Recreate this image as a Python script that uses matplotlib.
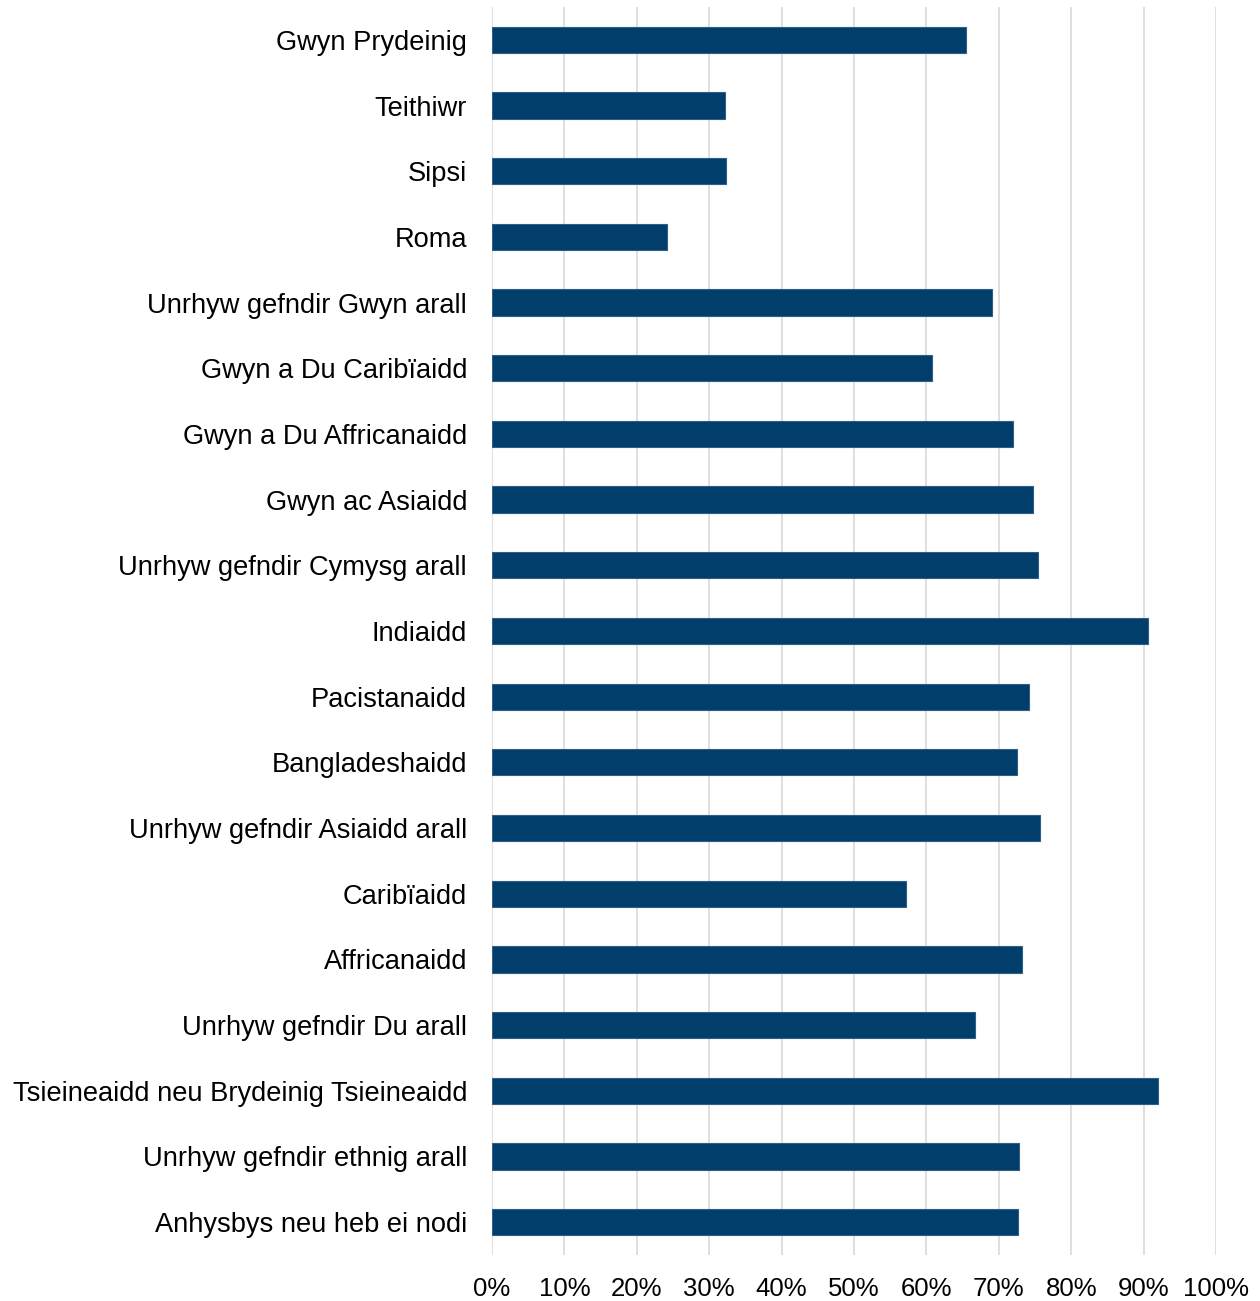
import matplotlib.pyplot as plt
import numpy as np

plt.rcParams['font.family'] = ['Liberation Sans', 'DejaVu Sans']

categories = [
    "Gwyn Prydeinig",
    "Teithiwr",
    "Sipsi",
    "Roma",
    "Unrhyw gefndir Gwyn arall",
    "Gwyn a Du Caribïaidd",
    "Gwyn a Du Affricanaidd",
    "Gwyn ac Asiaidd",
    "Unrhyw gefndir Cymysg arall",
    "Indiaidd",
    "Pacistanaidd",
    "Bangladeshaidd",
    "Unrhyw gefndir Asiaidd arall",
    "Caribïaidd",
    "Affricanaidd",
    "Unrhyw gefndir Du arall",
    "Tsieineaidd neu Brydeinig Tsieineaidd",
    "Unrhyw gefndir ethnig arall",
    "Anhysbys neu heb ei nodi",
]
values = [65.5, 32.2, 32.3, 24.2, 69.1, 60.8, 72.0, 74.7, 75.4, 90.6,
          74.2, 72.5, 75.7, 57.2, 73.2, 66.7, 92.0, 72.8, 72.7]
ticks = list(range(0, 101, 10))
tick_labels = [f"{t}%" for t in ticks]

fig = plt.figure(figsize=(12.6, 13.01), dpi=100)
ax = fig.add_axes([0.3905, 0.0354, 0.5746, 0.9592])

y = np.arange(len(categories))
ax.barh(y, values, height=0.4, color="#023e6b", edgecolor="#2d5f8a", linewidth=0.8, zorder=3)
ax.set_yticks(y)
ax.set_yticklabels(categories, fontsize=19.6, color="#000000")
ax.set_ylim(len(categories) - 0.5, -0.5)
ax.set_xlim(0, 100)
ax.set_xticks(ticks)
ax.set_xticklabels(tick_labels, fontsize=18.5)
ax.grid(axis="x", color="#d9d9d9", linewidth=1.2, zorder=0)
for s in ax.spines.values():
    s.set_visible(False)
ax.tick_params(axis="both", length=0)
ax.tick_params(axis="y", pad=18)
ax.tick_params(axis="x", pad=16)

fig.savefig("out.png", dpi=100)
